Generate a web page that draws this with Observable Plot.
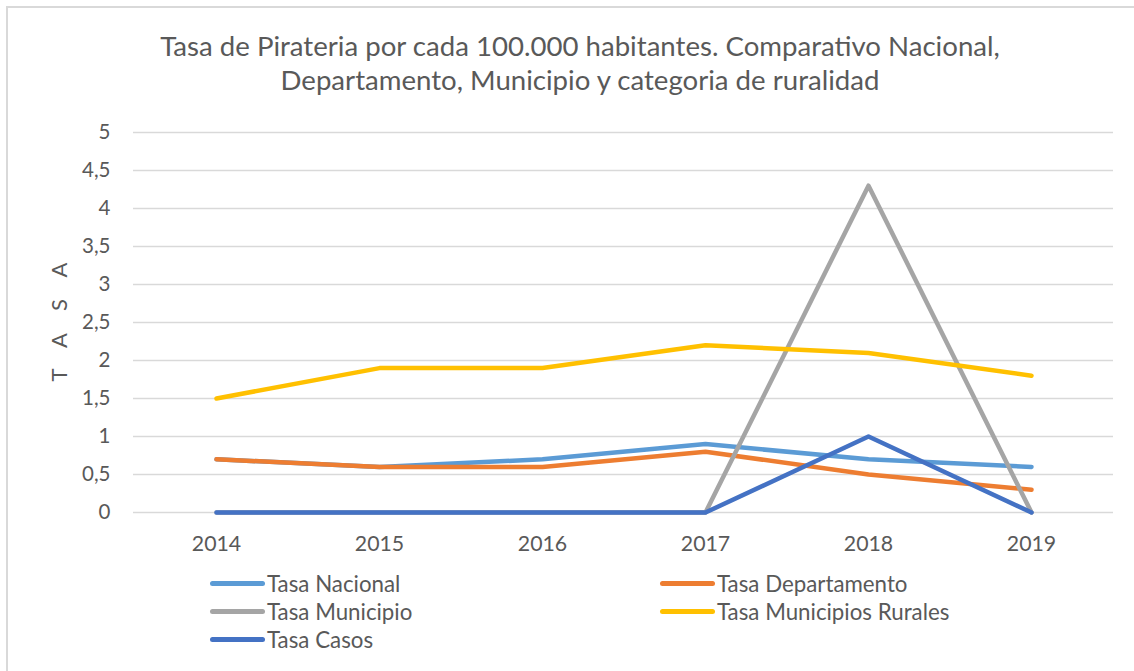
<!DOCTYPE html>
<html>
<head>
<meta charset="utf-8">
<script src="https://cdn.jsdelivr.net/npm/d3@7"></script>
<script src="https://cdn.jsdelivr.net/npm/@observablehq/plot@0.6"></script>
<style>
  html, body { margin: 0; padding: 0; background: #fff; }
  #wrap { position: relative; width: 1134px; height: 671px; overflow: hidden; font-family: Lato, "Open Sans", sans-serif; color: #595959; }
  #frame { position: absolute; left: 6px; top: 6px; width: 1200px; height: 800px; border-top: 2px solid #d9d9d9; border-left: 2px solid #d9d9d9; }
  #title { position: absolute; left: 0; width: 1160px; top: 29px; text-align: center; font-size: 27.6px; line-height: 34px; color: #595959; }
  #chart { position: absolute; left: 0; top: 0; }
  #ylab { position: absolute; left: 58px; top: 322px; transform: translate(-50%, -50%) rotate(-90deg); font-size: 22px; letter-spacing: 22px; padding-left: 22px; white-space: nowrap; color: #595959; }
  .leg { position: absolute; display: flex; align-items: center; font-size: 22.3px; color: #595959; white-space: nowrap; }
  .leg span.sw { display: inline-block; width: 55px; height: 5px; border-radius: 3px; margin-right: 2px; }
</style>
</head>
<body>
<div id="wrap">
  <div id="frame"></div>
  <div id="chart"></div>
  <div id="title">Tasa de Pirateria por cada 100.000 habitantes. Comparativo Nacional,<br>Departamento, Municipio y categoria de ruralidad</div>
  <div id="ylab">TASA</div>
</div>
<script>
const years = ["2014", "2015", "2016", "2017", "2018", "2019"];
const seriesNames = ["Tasa Nacional", "Tasa Departamento", "Tasa Municipio", "Tasa Municipios Rurales", "Tasa Casos"];
const seriesColors = ["#5B9BD5", "#ED7D31", "#A5A5A5", "#FFC000", "#4472C4"];
const tasaNacional = [0.7, 0.6, 0.7, 0.9, 0.7, 0.6];
const tasaDepartamento = [0.7, 0.6, 0.6, 0.8, 0.5, 0.3];
const tasaMunicipio = [0, 0, 0, 0, 4.3, 0];
const tasaRurales = [1.5, 1.9, 1.9, 2.2, 2.1, 1.8];
const tasaCasos = [0, 0, 0, 0, 1, 0];
const yTicks = [0, 0.5, 1, 1.5, 2, 2.5, 3, 3.5, 4, 4.5, 5];

const allValues = [tasaNacional, tasaDepartamento, tasaMunicipio, tasaRurales, tasaCasos];
const data = [];
seriesNames.forEach((s, i) => years.forEach((y, j) => data.push({series: s, year: y, value: allValues[i][j]})));

const fmt = d => String(d).replace(".", ",");

const plot = Plot.plot({
  width: 1134,
  height: 671,
  marginTop: 132,
  marginBottom: 159,
  marginLeft: 133,
  marginRight: 21,
  style: { fontFamily: "Lato, 'Open Sans', sans-serif", color: "#595959", background: "transparent" },
  x: { type: "point", domain: years, padding: 0.5, label: null, axis: null },
  y: { domain: [0, 5], label: null, axis: null },
  color: { domain: seriesNames, range: seriesColors },
  marks: [
    Plot.ruleY(yTicks, { stroke: "#d9d9d9", strokeWidth: 1.5 }),
    Plot.text(yTicks, { y: d => d, text: fmt, frameAnchor: "left", textAnchor: "end", lineAnchor: "middle", dx: -23, fontSize: 20.5, fill: "#595959" }),
    Plot.text(years, { x: d => d, text: d => d, frameAnchor: "bottom", lineAnchor: "middle", dy: 32, fontSize: 21.3, fill: "#595959" }),
    Plot.line(data, { x: "year", y: "value", z: "series", stroke: "series", strokeWidth: 4.5, strokeLinecap: "round", strokeLinejoin: "round" })
  ]
});
document.getElementById("chart").appendChild(plot);

const wrap = document.getElementById("wrap");
const legPos = [[210, 583], [660, 583], [210, 611], [660, 611], [210, 639]];
seriesNames.forEach((s, i) => {
  const d = document.createElement("div");
  d.className = "leg";
  d.style.left = legPos[i][0] + "px";
  d.style.top = (legPos[i][1] - 13) + "px";
  d.style.height = "26px";
  d.innerHTML = `<span class="sw" style="background:${seriesColors[i]}"></span>${s}`;
  wrap.appendChild(d);
});
</script>
</body>
</html>
